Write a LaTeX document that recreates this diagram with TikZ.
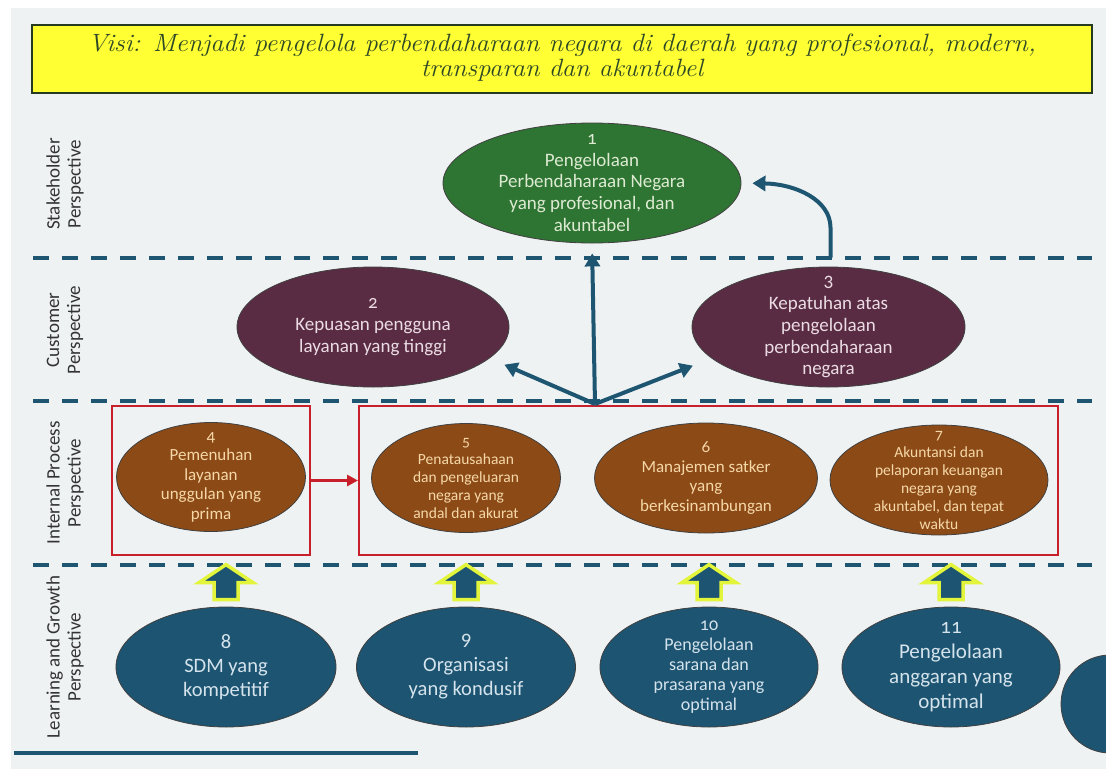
\documentclass[tikz,border=0pt]{standalone}
\usepackage{fontspec}
\usepackage{graphicx}
\newfontfamily\carl{Carlito}
\usetikzlibrary{arrows.meta,calc,shapes.geometric}
\definecolor{bgc}{HTML}{EFF2F3}
\definecolor{tealc}{HTML}{1E5672}
\definecolor{greenc}{HTML}{2E7432}
\definecolor{maroonc}{HTML}{5A2C44}
\definecolor{brownc}{HTML}{8C4A16}
\definecolor{bluec}{HTML}{1C5471}
\definecolor{redc}{HTML}{C8202A}
\definecolor{yelc}{HTML}{FFFF33}
\definecolor{limec}{HTML}{E2F53A}
\definecolor{visc}{HTML}{2E4826}
\definecolor{gtext}{HTML}{DDEBD3}
\definecolor{mtext}{HTML}{EBDCE4}
\definecolor{btext}{HTML}{F6D8A8}
\definecolor{ltext}{HTML}{D5E3EC}
\definecolor{lanec}{HTML}{333333}
\newcommand{\osn}[1]{{\addfontfeatures{Numbers=OldStyle}#1}}
\tikzset{
  lane/.style={rotate=90, align=center, text=lanec, inner sep=0pt,
    font=\carl\fontsize{19}{21}\selectfont},
  ell/.style={ellipse, draw=black!75, line width=0.8pt, inner sep=0pt},
  etext/.style={align=center, inner sep=0pt},
  dashline/.style={draw=tealc, line width=4pt, dash pattern=on 16pt off 13pt},
  tarrow/.style={draw=tealc, line width=4pt, -{Triangle[length=13pt,width=15pt]}},
  rarrow/.style={draw=redc, line width=3pt, -{Triangle[length=11pt,width=11pt]}},
  redbox/.style={draw=redc, line width=2pt, inner sep=0pt},
  blockup/.pic={\filldraw[draw=limec, fill=bluec, line width=3.5pt, line join=miter]
    (-12,0) -- (-12,-17) -- (-27,-17) -- (0,-35) -- (27,-17) -- (12,-17) -- (12,0) -- cycle;}
}
\begin{document}
\begin{tikzpicture}[x=1pt,y=-1pt]
\useasboundingbox (0,0) rectangle (1106,769);
\clip (0,0) rectangle (1106,769);
\fill[white] (0,0) rectangle (1106,769);
\fill[bgc] (11,8) rectangle (1106,769);

% vision box
\node[draw=visc!80!black, line width=2.5pt, fill=yelc, minimum width=1060, minimum height=68,
  text=visc, font=\itshape\fontsize{25}{25}\selectfont] (visi) at (562,59)
  {\scalebox{1.055}[1]{\begin{tabular}{@{}c@{}}Visi: Menjadi pengelola perbendaharaan negara di daerah yang profesional, modern,\\transparan dan akuntabel\end{tabular}}};

% lane labels
\node[lane] (l1) at (65,184) {Stakeholder\\Perspective};
\node[lane] (l2) at (65,330) {Customer\\Perspective};
\node[lane] (l3) at (65,483) {Internal Process\\Perspective};
\node[lane] (l4) at (65,657) {Learning and Growth\\Perspective};

% separators
\draw[dashline] (33,258) -- (1092,258);
\draw[dashline] (33,401) -- (1092,401);
\draw[dashline] (33,565) -- (1092,565);
\draw[draw=tealc, line width=4pt] (14,753) -- (418,753);

% red boxes
\node[redbox, minimum width=198, minimum height=149] (boxA) at (211,480.5) {};
\node[redbox, minimum width=699, minimum height=149] (boxB) at (708.5,480.5) {};

% stakeholder
\node[ell, fill=greenc, minimum width=298, minimum height=120,
  label={[etext, text=gtext, font=\carl\fontsize{19}{21.6}\selectfont]center:{\osn{1}\\Pengelolaan\\Perbendaharaan Negara\\yang profesional, dan\\akuntabel}}] (e1) at (592,183) {};

% customer
\node[ell, fill=maroonc, minimum width=272, minimum height=120,
  label={[etext, text=mtext, font=\carl\fontsize{19}{21.6}\selectfont]center:{\osn{2}\\Kepuasan pengguna\\layanan yang tinggi}}] (e2) at (373,327) {};
\node[ell, fill=maroonc, minimum width=273, minimum height=120,
  label={[etext, text=mtext, font=\carl\fontsize{19}{21.6}\selectfont]center:{3\\Kepatuhan atas\\pengelolaan\\perbendaharaan\\negara}}] (e3) at (828.5,327) {};

% internal process
\node[ell, fill=brownc, minimum width=189, minimum height=109,
  label={[etext, text=btext, font=\carl\fontsize{17}{19.5}\selectfont]center:{\osn{4}\\Pemenuhan\\layanan\\unggulan yang\\prima}}] (e4) at (211,477) {};
\node[ell, fill=brownc, minimum width=189, minimum height=109,
  label={[etext, text=btext, font=\carl\fontsize{15.5}{18}\selectfont]center:{\osn{5}\\Penatausahaan\\dan pengeluaran\\negara yang\\andal dan akurat}}] (e5) at (466,478) {};
\node[ell, fill=brownc, minimum width=223, minimum height=110,
  label={[etext, text=btext, font=\carl\fontsize{17}{19.5}\selectfont]center:{\osn{6}\\Manajemen satker\\yang\\berkesinambungan}}] (e6) at (706,478) {};
\node[ell, fill=brownc, minimum width=218, minimum height=110,
  label={[etext, text=btext, font=\carl\fontsize{15.5}{18}\selectfont]center:{\osn{7}\\Akuntansi dan\\pelaporan keuangan\\negara yang\\akuntabel, dan tepat\\waktu}}] (e7) at (939,480) {};

% learning and growth
\node[ell, fill=bluec, minimum width=220, minimum height=120,
  label={[etext, text=ltext, font=\carl\fontsize{20.5}{24}\selectfont]center:{8\\SDM yang\\kompetitif}}] (e8) at (226,667) {};
\node[ell, fill=bluec, minimum width=219, minimum height=120,
  label={[etext, text=ltext, font=\carl\fontsize{20.5}{24}\selectfont]center:{9\\Organisasi\\yang kondusif}}] (e9) at (466,667) {};
\node[ell, fill=bluec, minimum width=218, minimum height=120,
  label={[etext, text=ltext, font=\carl\fontsize{18}{20}\selectfont]center:{\osn{10}\\Pengelolaan\\sarana dan\\prasarana yang\\optimal}}] (e10) at (709,667) {};
\node[ell, fill=bluec, minimum width=218, minimum height=120,
  label={[etext, text=ltext, font=\carl\fontsize{21}{25}\selectfont]center:{\osn{11}\\Pengelolaan\\anggaran yang\\optimal}}] (e11) at (951,667) {};
\node[ell, fill=bluec, minimum width=98, minimum height=98] (e12) at (1110,704) {};

% block arrows
\pic at ($(e8.north)+(0,-7)$) {blockup};
\pic at ($(e9.north)+(0,-7)$) {blockup};
\pic at ($(e10.north)+(0,-7)$) {blockup};
\pic at ($(e11.north)+(0,-7)$) {blockup};

% connectors
\coordinate (hub) at (595,404);
\draw[tarrow, shorten >=10pt] (hub) -- (e1.south);
\draw[tarrow, shorten >=16pt] (hub) -- (e2.-15);
\draw[tarrow, shorten >=20pt] (hub) -- (e3.195);
\coordinate (c3) at ($(e3.north)+(2,-9)$);
\draw[tarrow, shorten >=11pt] (c3) -- ++(0,-30) .. controls +(0,-28) and (795,184) .. (e1.east);
\draw[rarrow] (boxA.east) -- (boxB.west);
\end{tikzpicture}
\end{document}
